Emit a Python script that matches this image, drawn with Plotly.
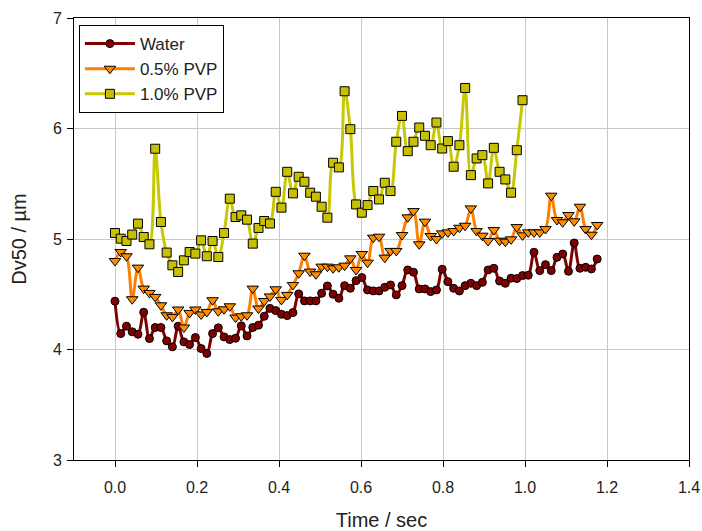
import plotly.graph_objects as go

# ---- data ----
DT = 0.014  # sampling interval (sec)

water = [4.437, 4.144, 4.211, 4.160, 4.138, 4.337, 4.099, 4.199, 4.199, 4.078,
         4.024, 4.211, 4.069, 4.045, 4.108, 4.009, 3.964, 4.144, 4.196, 4.114,
         4.090, 4.102, 4.214, 4.123, 4.199, 4.220, 4.301, 4.372, 4.352, 4.319,
         4.307, 4.334, 4.503, 4.440, 4.440, 4.440, 4.509, 4.575, 4.500, 4.464,
         4.578, 4.554, 4.623, 4.651, 4.539, 4.530, 4.530, 4.563, 4.584, 4.494,
         4.578, 4.720, 4.699, 4.548, 4.548, 4.524, 4.539, 4.726, 4.614, 4.554,
         4.530, 4.578, 4.599, 4.578, 4.608, 4.720, 4.735, 4.620, 4.599, 4.645,
         4.642, 4.669, 4.672, 4.880, 4.714, 4.768, 4.714, 4.834, 4.864, 4.708,
         4.964, 4.735, 4.744, 4.729, 4.819]

pvp05 = [4.801, 4.882, 4.844, 4.455, 4.741, 4.551, 4.512, 4.476, 4.400, 4.310,
         4.295, 4.362, 4.199, 4.331, 4.362, 4.317, 4.340, 4.446, 4.346, 4.364,
         4.391, 4.289, 4.301, 4.310, 4.551, 4.371, 4.439, 4.480, 4.545, 4.449,
         4.494, 4.584, 4.690, 4.849, 4.705, 4.681, 4.750, 4.750, 4.735, 4.744,
         4.759, 4.825, 4.720, 4.864, 4.786, 5.012, 5.021, 4.831, 4.892, 4.892,
         5.036, 5.196, 5.253, 4.952, 5.157, 5.027, 5.000, 5.051, 5.060, 5.072,
         5.102, 5.120, 5.277, 5.072, 5.030, 4.982, 5.081, 4.985, 4.976, 4.997,
         5.108, 5.033, 5.060, 5.060, 5.060, 5.090, 5.392, 5.172, 5.151, 5.217,
         5.160, 5.292, 5.090, 5.039, 5.127]

pvp10 = [5.054, 5.003, 4.982, 5.040, 5.139, 5.018, 4.952, 5.817, 5.154, 4.877,
         4.762, 4.702, 4.807, 4.882, 4.868, 4.988, 4.844, 4.982, 4.837, 5.054,
         5.365, 5.199, 5.214, 5.175, 4.958, 5.100, 5.163, 5.140, 5.427, 5.284,
         5.608, 5.413, 5.563, 5.518, 5.419, 5.383, 5.292, 5.193, 5.690, 5.648,
         6.337, 5.994, 5.313, 5.238, 5.307, 5.434, 5.358, 5.509, 5.434, 5.880,
         6.114, 5.795, 5.880, 6.009, 5.934, 5.849, 6.054, 5.819, 5.886, 5.654,
         5.849, 6.367, 5.578, 5.729, 5.759, 5.503, 5.825, 5.608, 5.539, 5.419,
         5.804, 6.256]

series_names = ["Water", "0.5% PVP", "1.0% PVP"]
x_ticks = [0.0, 0.2, 0.4, 0.6, 0.8, 1.0, 1.2, 1.4]
x_ticklabels = ["0.0", "0.2", "0.4", "0.6", "0.8", "1.0", "1.2", "1.4"]
y_ticks = [3, 4, 5, 6, 7]

def times(values):
    return [round(i * DT, 4) for i in range(len(values))]

FONT = "Arial, 'Liberation Sans', sans-serif"

fig = go.Figure()
styles = [
    (water, "#800000", "#800000", "circle", 8),
    (pvp05, "#FF8000", "#FF8C00", "triangle-down", 10),
    (pvp10, "#C8C800", "#C8C000", "square", 9),
]
for name, (vals, lc, mc, sym, ms) in zip(series_names, styles):
    fig.add_trace(go.Scatter(
        x=times(vals), y=vals, name=name, mode="lines+markers",
        line=dict(color=lc, width=3, shape="spline", smoothing=1),
        marker=dict(symbol=sym, size=ms, color=mc,
                    line=dict(color="black", width=1)),
    ))

fig.update_layout(
    width=702, height=531,
    margin=dict(l=74, r=13, t=18, b=71),
    paper_bgcolor="white", plot_bgcolor="white",
    font=dict(family=FONT, size=16, color="#222222"),
    showlegend=True,
    legend=dict(
        x=0.008, y=0.984, xanchor="left", yanchor="top",
        bgcolor="white", bordercolor="black", borderwidth=1,
        font=dict(family=FONT, size=17, color="#222222"),
        itemwidth=50, tracegroupgap=0,
    ),
    xaxis=dict(
        range=[-0.1, 1.4], tickvals=x_ticks, ticktext=x_ticklabels,
        showgrid=True, gridcolor="#c8c8c8", gridwidth=1, zeroline=False,
        showline=True, linecolor="black", linewidth=1, mirror=True,
        ticks="outside", ticklen=6, tickcolor="black",
        ticklabelstandoff=7, automargin=False,
        title=dict(text="Time / sec", font=dict(size=20), standoff=24),
    ),
    yaxis=dict(
        range=[3, 7], tickvals=y_ticks,
        showgrid=True, gridcolor="#c8c8c8", gridwidth=1, zeroline=False,
        showline=True, linecolor="black", linewidth=1, mirror=True,
        ticks="outside", ticklen=6, tickcolor="black",
        ticklabelstandoff=2, automargin=False,
        title=dict(text="Dv50 / µm", font=dict(size=20), standoff=20),
    ),
)

fig.write_html("out.html")
